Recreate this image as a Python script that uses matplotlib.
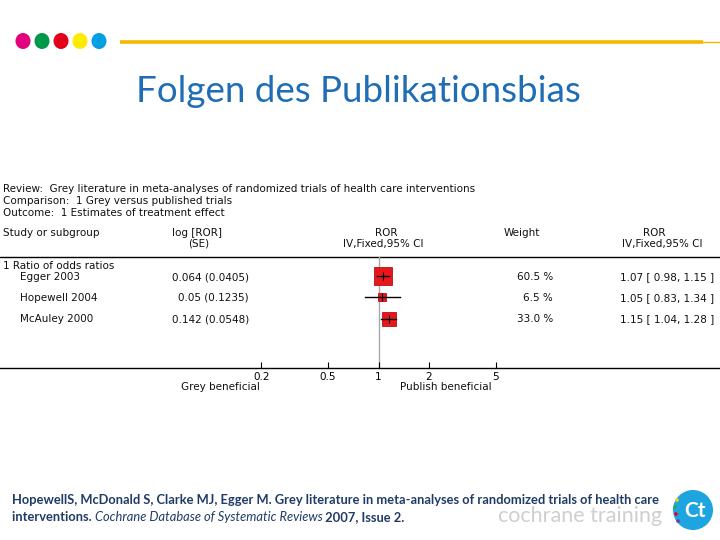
import matplotlib
matplotlib.use("Agg")
import matplotlib.pyplot as plt
from matplotlib.patches import Circle, Ellipse
import numpy as np

# ---------------- data ----------------
studies = ["Egger 2003", "Hopewell 2004", "McAuley 2000"]
log_ror = ["0.064", "0.05", "0.142"]
log_se = ["0.0405", "0.1235", "0.0548"]
ror = [1.07, 1.05, 1.15]
ci_low = [0.98, 0.83, 1.04]
ci_high = [1.15, 1.34, 1.28]
weights = [60.5, 6.5, 33.0]
xticks = [0.2, 0.5, 1, 2, 5]
xtick_labels = ["0.2", "0.5", "1", "2", "5"]

title = "Folgen des Publikationsbias"
review_lines = [
    "Review:  Grey literature in meta-analyses of randomized trials of health care interventions",
    "Comparison:  1 Grey versus published trials",
    "Outcome:  1 Estimates of treatment effect",
]
subgroup = "1 Ratio of odds ratios"

W, H = 720, 540
fig = plt.figure(figsize=(7.2, 5.4), dpi=100)
bg = fig.add_axes([0, 0, 1, 1])
bg.set_xlim(0, W)
bg.set_ylim(H, 0)
bg.axis("off")

# decorative dots and line
dot_cols = ["#e4007c", "#00984a", "#e3001b", "#ffec00", "#00a0e3"]
for i, c in enumerate(dot_cols):
    bg.add_patch(Ellipse((23 + i * 19, 41), 15, 16, color=c, lw=0))
bg.plot([120, 703], [42, 42], color="#f4b800", lw=2.6, solid_capstyle="butt")
bg.plot([703, 720], [42, 42], color="#f4b800", lw=1.0)

bg.text(358, 92, title, fontsize=26.5, color="#1f6db5", family="Lato",
        ha="center", va="center")

fs = 7.5
tc = "#111111"
fam = "DejaVu Sans"
for i, line in enumerate(review_lines):
    bg.text(3, 189 + 12 * i, line, fontsize=fs, family=fam, color=tc, va="center", ha="left")

bg.text(3, 233, "Study or subgroup", fontsize=fs, family=fam, color=tc, va="center")
bg.text(197, 233, "log [ROR]", fontsize=fs, family=fam, color=tc, va="center", ha="center")
bg.text(199, 244, "(SE)", fontsize=fs, family=fam, color=tc, va="center", ha="center")
bg.text(386, 233, "ROR", fontsize=fs, family=fam, color=tc, va="center", ha="center")
bg.text(383, 244, "IV,Fixed,95% CI", fontsize=fs, family=fam, color=tc, va="center", ha="center")
bg.text(522, 233, "Weight", fontsize=fs, family=fam, color=tc, va="center", ha="center")
bg.text(654, 233, "ROR", fontsize=fs, family=fam, color=tc, va="center", ha="center")
bg.text(662, 244, "IV,Fixed,95% CI", fontsize=fs, family=fam, color=tc, va="center", ha="center")
bg.plot([0, 720], [257, 257], color="black", lw=1.0)
bg.text(3, 266, subgroup, fontsize=fs, family=fam, color=tc, va="center")

row_y = [277, 298, 319]
for i in range(len(studies)):
    y = row_y[i]
    bg.text(20, y, studies[i], fontsize=fs, family=fam, color=tc, va="center")
    bg.text(249, y, f"{log_ror[i]} ({log_se[i]})", fontsize=fs, family=fam,
            color=tc, va="center", ha="right")
    bg.text(553, y, f"{weights[i]:.1f} %", fontsize=fs, family=fam, color=tc,
            va="center", ha="right")
    bg.text(714, y, f"{ror[i]:.2f} [ {ci_low[i]:.2f}, {ci_high[i]:.2f} ]",
            fontsize=fs, family=fam, color=tc, va="center", ha="right")

# ---------------- forest axes ----------------
px_per_dec = 167.4
x_one = 378.5
left = 10 ** (-x_one / px_per_dec)
right = 10 ** ((W - x_one) / px_per_dec)
top_px, bot_px = 257, 368
ax = fig.add_axes([0, 1 - bot_px / H, 1, (bot_px - top_px) / H])
ax.set_xscale("log")
ax.set_xlim(left, right)
ytop = -(276 - top_px) / 21.5
ax.set_ylim(ytop + (bot_px - top_px) / 21.5, ytop)
ax.patch.set_alpha(0)
for s in ["top", "left", "right"]:
    ax.spines[s].set_visible(False)
ax.spines["bottom"].set_linewidth(1.0)
ax.set_yticks([])
ax.set_xticks(xticks)
ax.set_xticklabels(xtick_labels, fontsize=fs, family=fam)
ax.xaxis.set_minor_locator(matplotlib.ticker.NullLocator())
ax.tick_params(axis="x", direction="in", length=4, width=0.8, pad=3)
ax.axvline(1, color="#a8a8a8", lw=1.0, zorder=1)

rows = np.arange(len(studies))
for i in rows:
    ax.plot([ci_low[i], ci_high[i]], [i, i], color="black", lw=1.0, zorder=3)
    ms = 1.45 * np.sqrt(weights[i]) + 1.5
    ax.plot([ror[i]], [i], marker="s", ms=ms, color="#e8171b",
            mec="#b01418", mew=0.6, zorder=2)
    ax.plot([ror[i]], [i], marker="|", ms=6, color="black", mew=0.8, zorder=4)

bg.text(260, 387.5, "Grey beneficial", fontsize=fs, family=fam, color=tc, va="center", ha="right")
bg.text(400, 387.5, "Publish beneficial", fontsize=fs, family=fam, color=tc, va="center", ha="left")

# ---------------- citation ----------------
navy = "#1f3b66"
cfam = "Lato"
cfs = 9.3
bg.text(12, 500, "HopewellS, McDonald S, Clarke MJ, Egger M. Grey literature in meta-analyses of randomized trials of health care",
        fontsize=cfs, family=cfam, weight="bold", color=navy, va="center")
fig.canvas.draw()
r = fig.canvas.get_renderer()
t1 = bg.text(12, 517, "interventions. ", fontsize=cfs, family=cfam, weight="bold", color=navy, va="center")
bb = t1.get_window_extent(r)
t2 = bg.text(12 + bb.width, 517, "Cochrane Database of Systematic Reviews", fontsize=cfs,
             family=cfam, style="italic", color=navy, va="center")
bb2 = t2.get_window_extent(r)
bg.text(12 + bb.width + bb2.width, 517, " 2007, Issue 2.", fontsize=cfs, family=cfam,
        weight="bold", color=navy, va="center")

bg.text(662, 516, "cochrane training", fontsize=15.5, family="Lato", color="#cfcfcf",
        va="center", ha="right")

# logo
bg.add_patch(Circle((693, 510), 20, color="#1ea5e0", lw=0))
bg.text(695, 511, "Ct", fontsize=15, color="white", weight="bold", family="Lato",
        ha="center", va="center")
for (lx, ly, lc) in [(677, 500, "#ffd200"), (675, 507, "#2aa84a"), (676, 514, "#e3001b"), (678, 521, "#7a3b8f")]:
    bg.add_patch(Circle((lx, ly), 1.8, color=lc, lw=0))

fig.savefig("out.png", dpi=100)
